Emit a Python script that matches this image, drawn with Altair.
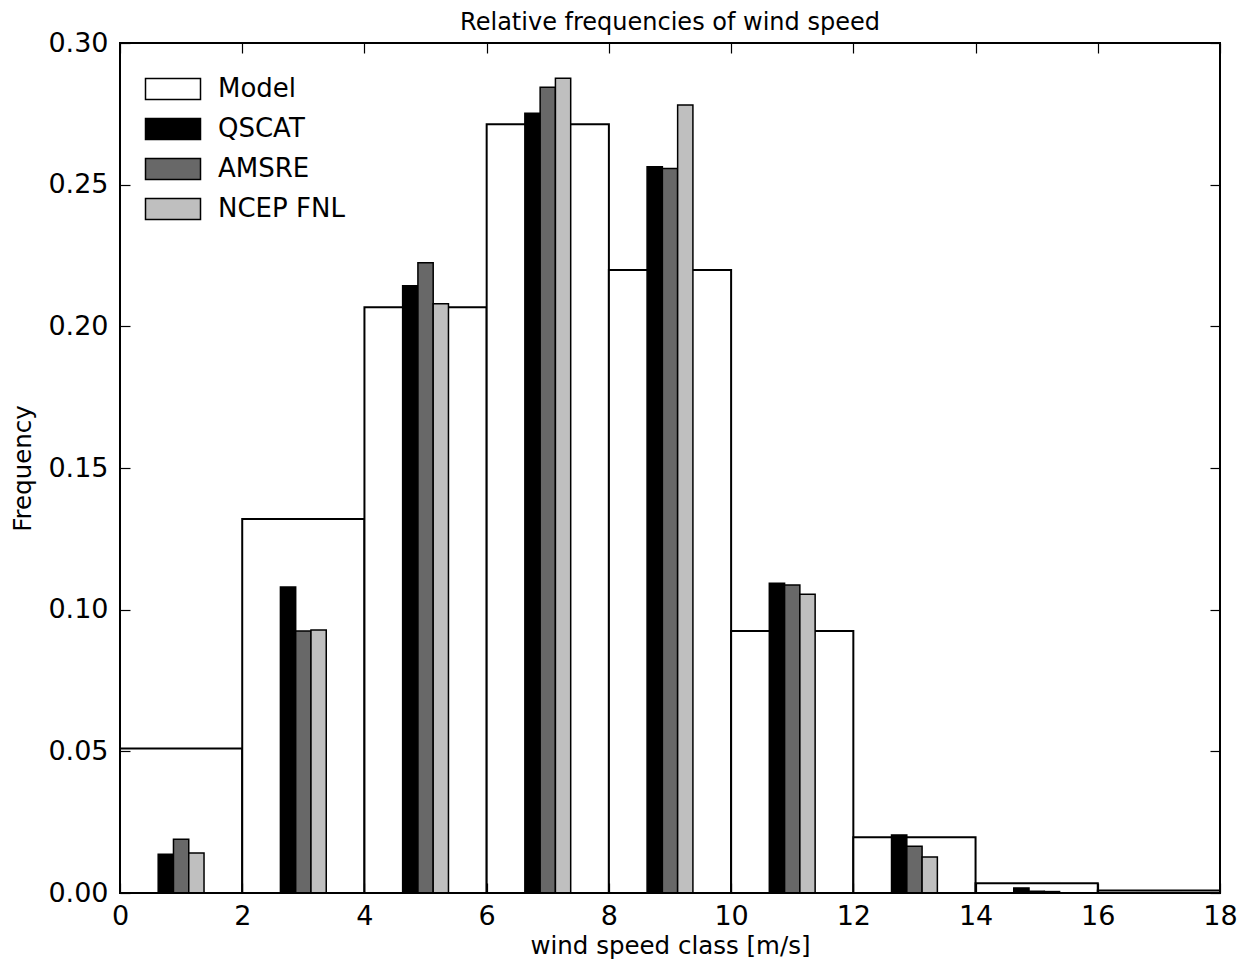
import altair as alt
import pandas as pd

# ---- data ----
bin_lo = [0, 2, 4, 6, 8, 10, 12, 14, 16]
bin_width = 2
model = [0.0510, 0.1320, 0.2067, 0.2713, 0.2199, 0.0925, 0.0197, 0.0034, 0.0009]
qscat = [0.0137, 0.1080, 0.2143, 0.2752, 0.2563, 0.1093, 0.0205, 0.0018, 0.0001]
amsre = [0.0190, 0.0925, 0.2224, 0.2844, 0.2557, 0.1087, 0.0165, 0.0006, 0.0001]
ncep = [0.0141, 0.0928, 0.2080, 0.2876, 0.2781, 0.1054, 0.0127, 0.0005, 0.0001]

series_names = ["Model", "QSCAT", "AMSRE", "NCEP FNL"]
series_colors = ["#ffffff", "#000000", "#686868", "#bfbfbf"]
x_ticks = [0, 2, 4, 6, 8, 10, 12, 14, 16, 18]
y_ticks = [0.0, 0.05, 0.10, 0.15, 0.20, 0.25, 0.30]
x_domain = [0, 18]
y_domain = [0, 0.3]
obs_bar_width = 0.25

FONT = "DejaVu Sans"

model_df = pd.DataFrame({
    "lo": bin_lo,
    "hi": [b + bin_width for b in bin_lo],
    "freq": model,
    "series": "Model",
})

rows = []
for k, (name, vals) in enumerate(zip(series_names[1:], [qscat, amsre, ncep])):
    for b, v in zip(bin_lo, vals):
        center = b + bin_width / 2
        lo = center - 1.5 * obs_bar_width + k * obs_bar_width
        rows.append({"lo": lo, "hi": lo + obs_bar_width, "freq": v, "series": name})
obs_df = pd.DataFrame(rows)

xscale = alt.Scale(domain=x_domain, nice=False, zero=False)
yscale = alt.Scale(domain=y_domain, nice=False)
fscale = alt.Scale(domain=series_names, range=series_colors)

legend = alt.Legend(
    title=None, orient="none", legendX=32, legendY=25,
    symbolType="M-1.375,-0.525L1.375,-0.525L1.375,0.525L-1.375,0.525Z", symbolSize=1600,
    symbolStrokeColor="black", symbolStrokeWidth=1.5, symbolOpacity=1,
    labelFont=FONT, labelFontSize=26, labelColor="black",
    rowPadding=5, labelOffset=24, padding=0,
)

common_axis = dict(domain=False, grid=False, ticks=True, tickSize=10, offset=-10,
                   tickColor="black", tickWidth=1.2, labelFont=FONT, labelFontSize=27,
                   labelColor="black", titleFont=FONT, titleFontSize=24.5,
                   titleFontWeight="normal", titleColor="black", zindex=1,
                   labelFlush=False, labelOverlap=False, labelBound=False)

x_bottom = alt.Axis(orient="bottom", values=x_ticks, format="d", labelPadding=10,
                    titlePadding=5, **common_axis)
y_left = alt.Axis(orient="left", values=y_ticks, format=".2f", labelPadding=12,
                  titlePadding=12, **common_axis)
x_top = alt.Axis(orient="top", values=x_ticks, labels=False, **common_axis)
y_right = alt.Axis(orient="right", values=y_ticks, labels=False, **common_axis)

model_layer = alt.Chart(model_df).mark_rect(stroke="black", strokeWidth=2).encode(
    x=alt.X("lo:Q", scale=xscale, axis=x_bottom, title="wind speed class [m/s]"),
    x2="hi:Q",
    y=alt.Y("freq:Q", scale=yscale, axis=y_left, title="Frequency"),
    y2=alt.datum(0),
    fill=alt.Fill("series:N", scale=fscale, legend=legend),
)

obs_layer = alt.Chart(obs_df).mark_rect(stroke="black", strokeWidth=1.5).encode(
    x=alt.X("lo:Q", scale=xscale, axis=x_top, title=None),
    x2="hi:Q",
    y=alt.Y("freq:Q", scale=yscale, axis=y_right, title=None),
    y2=alt.datum(0),
    fill=alt.Fill("series:N", scale=fscale, legend=legend),
)

# plot frame, drawn from the axis domains
frame_df = pd.DataFrame({"x0": [x_domain[0]], "x1": [x_domain[1]],
                         "y0": [y_domain[0]], "y1": [y_domain[1]]})
frame_layer = alt.Chart(frame_df).mark_rect(
    fill="white", fillOpacity=0, stroke="black", strokeWidth=2
).encode(
    x=alt.X("x0:Q", scale=xscale, axis=None),
    x2="x1:Q",
    y=alt.Y("y0:Q", scale=yscale, axis=None),
    y2="y1:Q",
)

chart = (
    alt.layer(model_layer, obs_layer, frame_layer)
    .resolve_axis(x="independent", y="independent")
    .properties(
        width=1100, height=850,
        title=alt.TitleParams("Relative frequencies of wind speed", font=FONT,
                              fontSize=24, fontWeight="normal", color="black",
                              offset=8, dy=14, anchor="middle"),
        autosize=alt.AutoSizeParams(type="none"),
        padding={"left": 120, "top": 43, "right": 28, "bottom": 69},
        background="white",
    )
    .configure_view(stroke="black", strokeWidth=2)
    .configure(font=FONT)
)

chart.save("out.html", embed_options={"renderer": "svg", "actions": False})
